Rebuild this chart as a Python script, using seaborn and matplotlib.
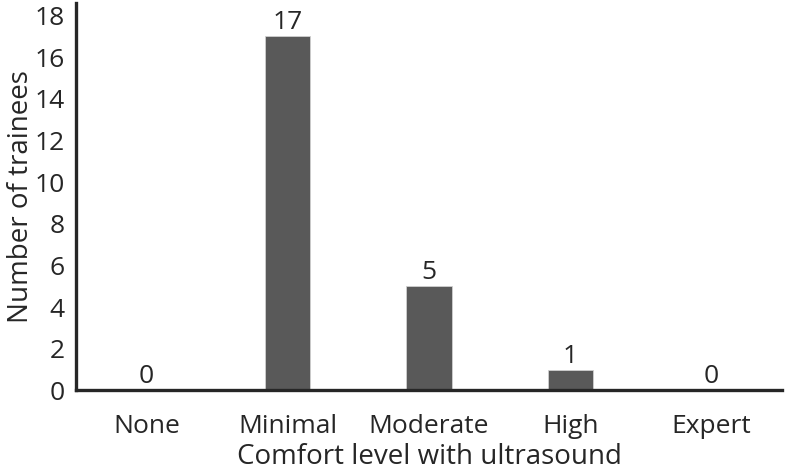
import matplotlib
matplotlib.use("Agg")
import matplotlib.pyplot as plt
import pandas as pd
import seaborn as sns

# === Data ===
levels = ["None", "Minimal", "Moderate", "High", "Expert"]
counts = [0, 17, 5, 1, 0]
y_ticks = [0, 2, 4, 6, 8, 10, 12, 14, 16, 18]


def plot_figure(df):
    """Bar chart of trainee comfort levels with value labels."""
    fig = plt.figure(figsize=(7.87, 4.75), dpi=100)
    ax = fig.add_axes([0.0966, 0.178, 0.897, 0.816])

    sns.barplot(data=df, x="level", y="count", color="#595959",
                width=0.32, edgecolor="#d0d0d0", linewidth=0.6,
                saturation=1, ax=ax)

    for i, v in enumerate(df["count"]):
        ax.text(i, v + 0.05, str(v), ha="center", va="bottom", fontsize=19)

    ax.set_xlim(-0.5, len(df) - 0.5)
    ax.set_ylim(0, 18.6)
    ax.set_yticks(y_ticks)
    ax.set_xticks([i - 0.5 for i in range(len(df) + 1)], minor=False)
    ax.set_xticklabels([])
    ax.set_xticks(range(len(df)), minor=True)
    ax.set_xticklabels(df["level"], minor=True)
    ax.tick_params(axis="x", which="minor", length=0, labelsize=19, pad=17)
    ax.tick_params(axis="x", which="major", length=7, width=2.2)
    ax.tick_params(axis="y", length=7, width=2.2, labelsize=19, pad=1)

    for side in ["top", "right"]:
        ax.spines[side].set_visible(False)
    for side in ["left", "bottom"]:
        ax.spines[side].set_linewidth(2.4)

    ax.set_xlabel("Comfort level with ultrasound", fontsize=20, labelpad=3)
    ax.set_ylabel("Number of trainees", fontsize=20, labelpad=0)
    return fig


def main():
    sns.set_style("white")
    plt.rcParams["font.family"] = ["Open Sans", "DejaVu Sans"]
    df = pd.DataFrame({"level": levels, "count": counts})
    fig = plot_figure(df)
    fig.savefig("out.png", dpi=100)


if __name__ == "__main__":
    main()
